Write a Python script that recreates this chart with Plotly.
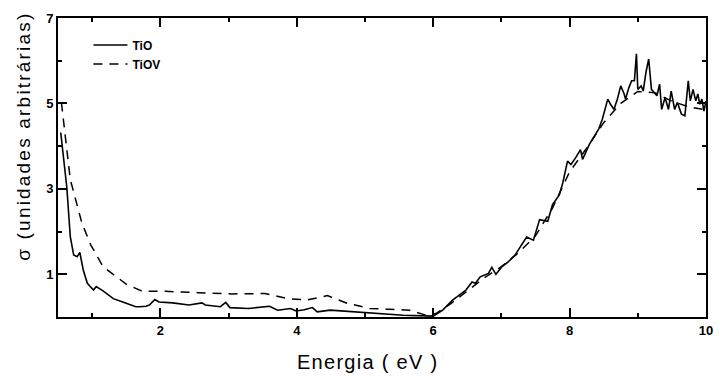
import plotly.graph_objects as go

# TiO (solid) spectrum: energy (eV) and sigma (arbitrary units)
tio_x = [0.54, 0.63, 0.68, 0.73, 0.78, 0.82, 0.87, 0.93, 1.02, 1.06, 1.16, 1.31, 1.45, 1.64, 1.69,
         1.79, 1.84, 1.92, 1.98, 2.18, 2.42, 2.61, 2.66, 2.88, 2.96, 3.02, 3.29, 3.43, 3.60, 3.72,
         3.91, 3.99, 4.11, 4.23, 4.30, 4.49, 5.07, 5.56, 6.00, 6.14, 6.28, 6.38, 6.48, 6.57, 6.62,
         6.69, 6.81, 6.86, 6.92, 7.01, 7.10, 7.20, 7.30, 7.37, 7.47, 7.56, 7.68, 7.75, 7.85, 7.90,
         7.97, 8.02, 8.09, 8.16, 8.19, 8.29, 8.35, 8.43, 8.48, 8.51, 8.56, 8.60, 8.65, 8.70, 8.75,
         8.80, 8.82, 8.87, 8.91, 8.95, 8.98, 9.00, 9.05, 9.08, 9.12, 9.16, 9.18, 9.20, 9.28, 9.32,
         9.35, 9.40, 9.45, 9.49, 9.54, 9.58, 9.64, 9.69, 9.74, 9.77, 9.81, 9.85, 9.88, 9.91, 9.94,
         9.97, 10.0]
tio_y = [4.32, 3.02, 1.88, 1.45, 1.41, 1.51, 1.10, 0.79, 0.63, 0.71, 0.61, 0.43, 0.35, 0.24, 0.24,
         0.25, 0.28, 0.41, 0.35, 0.33, 0.28, 0.33, 0.28, 0.24, 0.34, 0.22, 0.20, 0.22, 0.25, 0.16,
         0.20, 0.14, 0.17, 0.22, 0.12, 0.16, 0.09, 0.04, 0.02, 0.16, 0.39, 0.51, 0.63, 0.82, 0.79,
         0.94, 1.02, 1.16, 1.00, 1.18, 1.29, 1.45, 1.69, 1.87, 1.80, 2.28, 2.24, 2.63, 2.86, 3.14,
         3.65, 3.57, 3.73, 3.92, 3.69, 4.04, 4.20, 4.41, 4.63, 4.79, 5.10, 4.98, 4.86, 5.10, 5.41,
         5.22, 5.10, 5.37, 5.53, 5.53, 6.16, 5.33, 5.41, 5.29, 5.73, 6.04, 5.73, 5.33, 5.18, 5.45,
         4.86, 5.14, 4.86, 5.29, 4.86, 5.02, 4.75, 4.71, 5.53, 5.06, 5.33, 5.06, 5.22, 4.98, 5.10,
         4.82, 5.06]

# TiOV (dashed) spectrum
tiov_x = [0.55, 0.60, 0.68, 0.85, 0.98, 1.16, 1.50, 1.74, 2.08, 2.56, 3.05, 3.53, 3.87, 4.16, 4.45,
          4.74, 5.07, 5.36, 5.65, 5.90, 6.04, 6.25, 6.50, 6.75, 7.00, 7.25, 7.50, 7.75, 8.00, 8.25,
          8.50, 8.75, 9.00, 9.25, 9.50, 9.75, 10.0]
tiov_y = [5.02, 4.32, 3.22, 2.20, 1.69, 1.18, 0.77, 0.60, 0.60, 0.57, 0.54, 0.55, 0.43, 0.40, 0.50,
          0.32, 0.20, 0.18, 0.16, 0.04, 0.08, 0.30, 0.62, 0.92, 1.18, 1.50, 1.90, 2.55, 3.40, 3.95,
          4.55, 5.00, 5.28, 5.25, 5.05, 4.92, 4.85]

x_ticks = [2, 4, 6, 8, 10]
y_ticks = [1, 3, 5, 7]
x_title = "Energia ( eV )"
y_title = "σ (unidades arbitrárias)"

FONT = "Liberation Sans, Arial, sans-serif"

fig = go.Figure()
fig.add_trace(go.Scatter(x=tio_x, y=tio_y, mode="lines", name="TiO",
                         line=dict(color="black", width=1.6)))
fig.add_trace(go.Scatter(x=tiov_x, y=tiov_y, mode="lines", name="TiOV",
                         line=dict(color="black", width=1.5, dash="9px,7px")))

axis_common = dict(
    showline=True, linecolor="black", linewidth=2, mirror="ticks",
    ticks="inside", ticklen=9, tickwidth=2, tickcolor="black",
    showgrid=False, zeroline=False,
    tickfont=dict(family=FONT, size=13, color="black", weight="bold"),
)

fig.update_xaxes(range=[0.5, 10], tickvals=x_ticks, ticktext=[str(v) for v in x_ticks],
                 minor=dict(ticks="inside", dtick=1, tick0=0, ticklen=4, tickwidth=2,
                            tickcolor="black", showgrid=False),
                 **axis_common)
fig.update_yaxes(range=[0, 7], tickvals=y_ticks, ticktext=[str(v) for v in y_ticks],
                 minor=dict(ticks="inside", dtick=1, tick0=0, ticklen=4, tickwidth=2,
                            tickcolor="black", showgrid=False),
                 **axis_common)

fig.add_annotation(text=x_title, xref="paper", yref="paper", x=0.478, y=-0.15,
                   xanchor="center", yanchor="middle", showarrow=False,
                   font=dict(family=FONT, size=20, color="black"))
fig.add_annotation(text=y_title, xref="paper", yref="paper", x=-0.054, y=0.604,
                   xanchor="center", yanchor="middle", showarrow=False, textangle=-90,
                   font=dict(family=FONT, size=19, color="black"))

fig.update_layout(
    width=720, height=376,
    margin=dict(l=58, r=7, t=18, b=59),
    plot_bgcolor="white", paper_bgcolor="white",
    showlegend=True,
    legend=dict(x=0.047, y=0.958, xanchor="left", yanchor="top",
                bgcolor="rgba(0,0,0,0)", borderwidth=0,
                font=dict(family=FONT, size=12, color="black", weight="bold"),
                tracegroupgap=0, itemwidth=34),
)

post = """
var gd = document.getElementById('{plot_id}');
function spaceTitles(){
  var ts = gd.querySelectorAll('.annotation-text');
  ts.forEach(function(t){
    var s = t.textContent;
    if (s.indexOf('Energia') === 0) { t.style.letterSpacing = '1.3px'; }
    else { t.style.letterSpacing = '2.2px'; }
  });
}
spaceTitles();
gd.on && gd.on('plotly_afterplot', spaceTitles);
"""

fig.write_html("out.html", post_script=post)
